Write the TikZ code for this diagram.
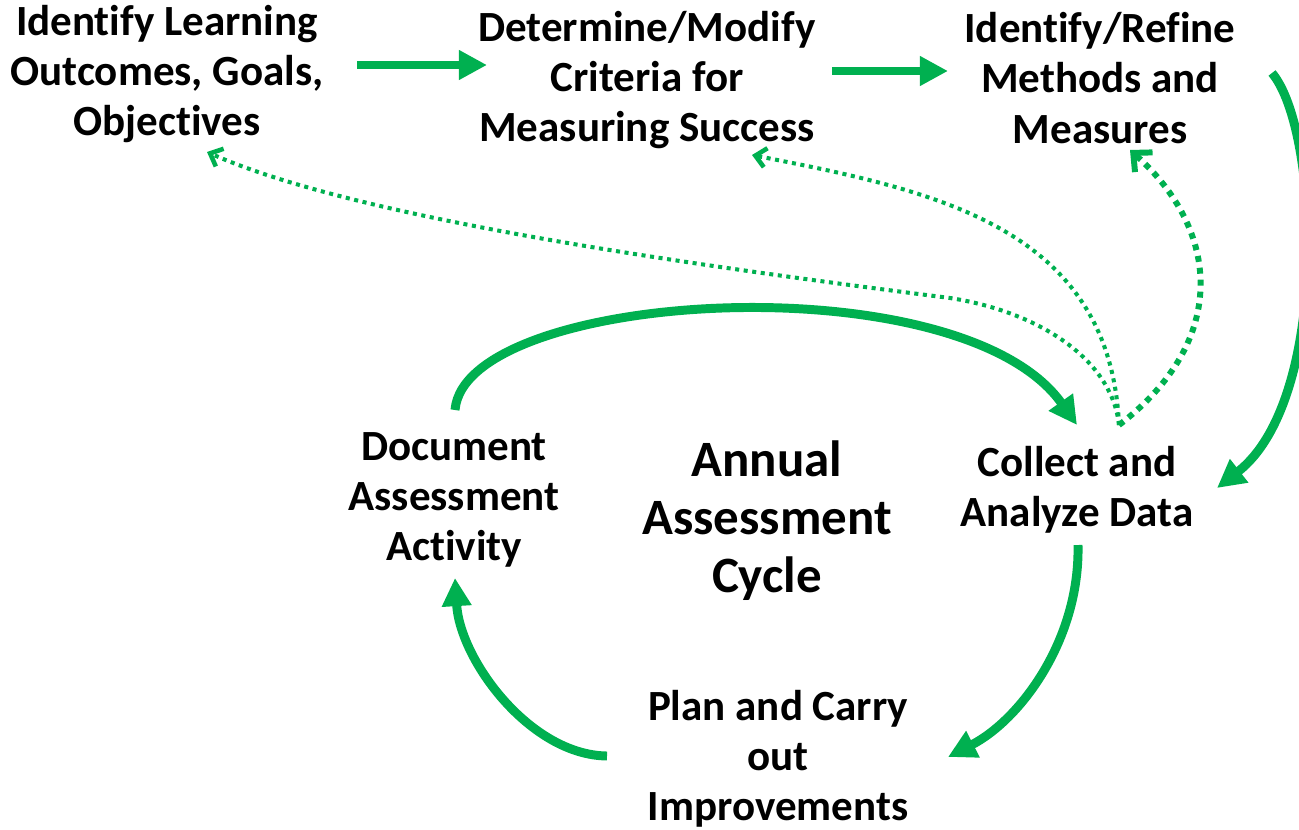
\documentclass[tikz,border=0pt]{standalone}
\usepackage{fontspec}
\setmainfont{Carlito}[RawFeature={-liga;-clig;-calt;-dlig;-rlig}]
\usetikzlibrary{arrows.meta}

\definecolor{cyclegreen}{HTML}{00B050}

\tikzset{
  stage/.style={font=\fontsize{24.5}{28.5}\selectfont\bfseries, align=center, inner sep=0pt},
  cycletitle/.style={font=\fontsize{29}{33}\selectfont\bfseries, align=center, inner sep=0pt},
  flow/.style={cyclegreen, line width=5.1pt, -{Triangle[length=16pt,width=16pt]}},
  feedback/.style={cyclegreen, line width=2.3pt, dash pattern=on 2.3pt off 2.6pt,
    -{Straight Barb[length=6pt,width=11pt,line width=2.6pt]}},
  feedbackthick/.style={cyclegreen, line width=3.4pt, dash pattern=on 3.4pt off 3.4pt,
    -{Straight Barb[length=8pt,width=15pt,line width=3.4pt]}}
}

\begin{document}
\begin{tikzpicture}[x=0.02cm, y=-0.02cm]

  \useasboundingbox (0,0) rectangle (1299,829);

  % stages of the cycle
  \node[stage] (outcomes) at (167,74) {Identify Learning\\Outcomes, Goals,\\Objectives};
  \node[stage] (criteria) at (647,80) {Determine/Modify\\Criteria for\\Measuring Success};
  \node[stage] (methods) at (1100,78) {Identify/Refine\\Methods and\\Measures};
  \node[stage] (collect) at (1077,490) {Collect and\\Analyze Data};
  \node[stage] (plan) at (778,759) {Plan and Carry\\out\\Improvements};
  \node[stage] (document) at (454,500) {Document\\Assessment\\Activity};
  \node[cycletitle] (annual) at (767,521) {Annual\\Assessment\\Cycle};

  % arrow ends
  \coordinate (o1) at (357,65);
  \coordinate (c0) at (487,65);
  \coordinate (c1) at (832,71);
  \coordinate (m0) at (948,71);
  \coordinate (m1) at (1272,73);
  \coordinate (d0) at (1217,488);
  \coordinate (d1) at (1078,545);
  \coordinate (p0) at (948,757);
  \coordinate (p1) at (607,756);
  \coordinate (a0) at (455,578);
  \coordinate (a1) at (455,410);
  \coordinate (d2) at (1077,425);
  \coordinate (f) at (1119,425);
  \coordinate (o0) at (207,152);
  \coordinate (c2) at (752,155);
  \coordinate (m2) at (1130,150);

  \draw[flow] (o1) -- (c0);
  \draw[flow] (c1) -- (m0);
  \draw[flow] (m1) .. controls (1320,130) and (1330,400) .. (d0);
  \draw[flow] (d1) .. controls (1080,640) and (1020,720) .. (p0);
  \draw[flow] (p1) .. controls (530,755) and (460,660) .. (a0);
  \draw[flow] (a1) .. controls (465,290) and (960,260) .. (d2);

  % feedback from the data
  \draw[feedback] (f) .. controls (1112,360) and (1040,312) .. (950,298)
    .. controls (650,260) and (350,215) .. (o0);
  \draw[feedback] (f) .. controls (1110,225) and (930,190) .. (c2);
  \draw[feedbackthick] (f) .. controls (1230,340) and (1220,230) .. (m2);

\end{tikzpicture}
\end{document}
